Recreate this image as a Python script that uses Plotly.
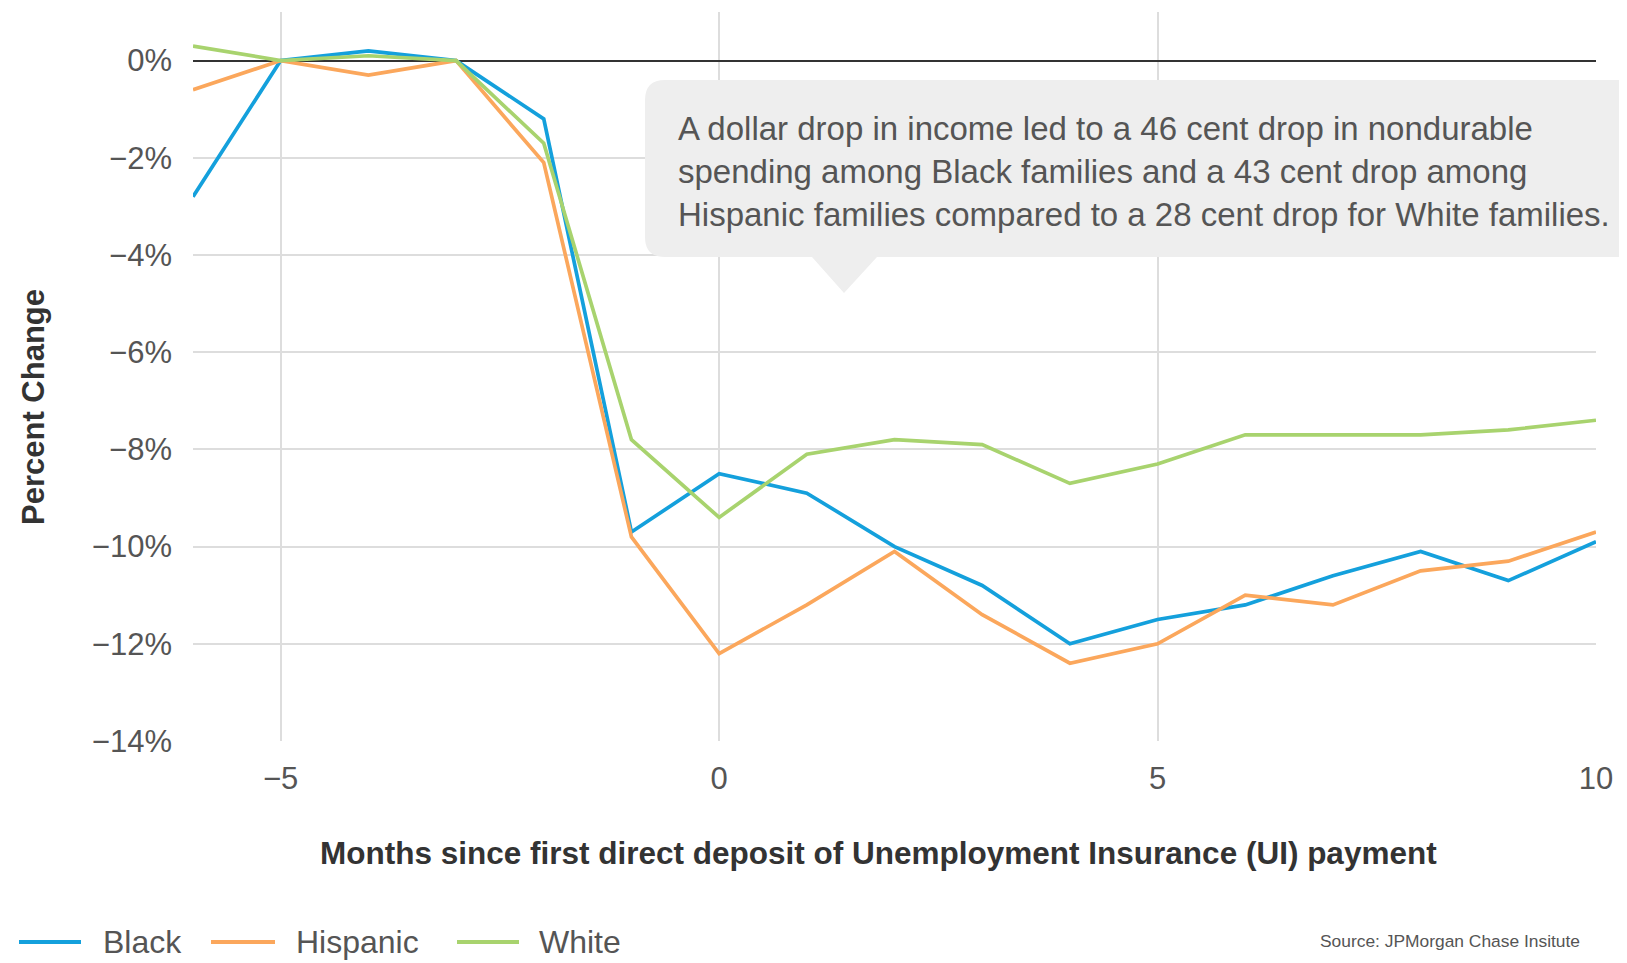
import plotly.graph_objects as go

months = [-6, -5, -4, -3, -2, -1, 0, 1, 2, 3, 4, 5, 6, 7, 8, 9, 10]
black = [-2.8, 0.0, 0.2, 0.0, -1.2, -9.7, -8.5, -8.9, -10.0, -10.8, -12.0, -11.5, -11.2, -10.6, -10.1, -10.7, -9.9]
hispanic = [-0.6, 0.0, -0.3, 0.0, -2.1, -9.8, -12.2, -11.2, -10.1, -11.4, -12.4, -12.0, -11.0, -11.2, -10.5, -10.3, -9.7]
white = [0.3, 0.0, 0.1, 0.0, -1.7, -7.8, -9.4, -8.1, -7.8, -7.9, -8.7, -8.3, -7.7, -7.7, -7.7, -7.6, -7.4]

series_names = ["Black", "Hispanic", "White"]
series_colors = ["#14A0DC", "#FBA75C", "#A8D36E"]
x_ticks = [-5, 0, 5, 10]
y_ticks = [0, -2, -4, -6, -8, -10, -12, -14]
y_tick_labels = ["0%", "\u22122%", "\u22124%", "\u22126%", "\u22128%", "\u221210%", "\u221212%", "\u221214%"]

callout_text = ("A dollar drop in income led to a 46 cent drop in nondurable<br>"
                "spending among Black families and a 43 cent drop among<br>"
                "Hispanic families compared to a 28 cent drop for White families.")
x_title = "Months since first direct deposit of Unemployment Insurance (UI) payment"
y_title = "Percent Change"
source_text = "Source: JPMorgan Chase Insitute"

W, H = 1627, 963
L, R, T, B = 185, 39, 4, 230
PW, PH = W - L - R, H - T - B

def px(x):
    return (x - L) / PW

def py(y):
    return (H - B - y) / PH

FONT = "Liberation Sans, Arial, sans-serif"

fig = go.Figure()
for name, vals, col in zip(series_names, [black, hispanic, white], series_colors):
    fig.add_trace(go.Scatter(x=months, y=vals, name=name, mode="lines",
                             line=dict(color=col, width=3.7), showlegend=False))

# callout box with pointer
x0, x1, y0, y1, r = 637, 1700, 72, 249, 20
path = (f"M {px(x0+r)},{py(y0)} L {px(x1)},{py(y0)} L {px(x1)},{py(y1)} "
        f"L {px(869)},{py(y1)} L {px(836)},{py(285)} L {px(804)},{py(y1)} "
        f"L {px(x0+r)},{py(y1)} Q {px(x0)},{py(y1)} {px(x0)},{py(y1-r)} "
        f"L {px(x0)},{py(y0+r)} Q {px(x0)},{py(y0)} {px(x0+r)},{py(y0)} Z")
fig.add_shape(type="path", path=path, xref="paper", yref="paper",
              fillcolor="#EEEEEE", line=dict(width=0), layer="above")

fig.add_annotation(text=callout_text, xref="paper", yref="paper",
                   x=px(668), y=py(163), xanchor="left", yanchor="middle",
                   align="left", showarrow=False,
                   font=dict(family=FONT, size=33, color="#555555"))

fig.add_annotation(text=f"<b>{x_title}</b>", xref="paper", yref="paper",
                   x=px(870), y=py(845), xanchor="center", yanchor="middle",
                   showarrow=False, font=dict(family=FONT, size=31.5, color="#333333"))
fig.add_annotation(text=f"<b>{y_title}</b>", xref="paper", yref="paper",
                   x=px(25), y=py(399), xanchor="center", yanchor="middle",
                   textangle=-90, showarrow=False,
                   font=dict(family=FONT, size=31, color="#333333"))
fig.add_annotation(text=source_text, xref="paper", yref="paper",
                   x=px(1574), y=py(933), xanchor="right", yanchor="middle",
                   showarrow=False, font=dict(family=FONT, size=17.4, color="#555555"))

# legend (swatch line + label per series)
legend_line_x = [(11, 73), (203, 267), (449, 511)]
legend_text_x = [93, 286, 529]
legend_y = 934
for name, col, (lx0, lx1), tx in zip(series_names, series_colors, legend_line_x, legend_text_x):
    fig.add_shape(type="line", xref="paper", yref="paper",
                  x0=px(lx0), x1=px(lx1), y0=py(legend_y), y1=py(legend_y),
                  line=dict(color=col, width=4))
    fig.add_annotation(text=name, xref="paper", yref="paper",
                       x=px(tx), y=py(legend_y), xanchor="left", yanchor="middle",
                       showarrow=False, font=dict(family=FONT, size=32, color="#555555"))

fig.update_layout(
    width=W, height=H,
    margin=dict(l=L, r=R, t=T, b=B, autoexpand=False),
    paper_bgcolor="white", plot_bgcolor="white",
    font=dict(family=FONT, size=31, color="#555555"),
    showlegend=False,
    xaxis=dict(range=[-6, 10], tickvals=x_ticks, showgrid=True,
               gridcolor="#DDDDDD", gridwidth=1.5, zeroline=False,
               showline=False, ticks="", ticklabelstandoff=16,
               tickfont=dict(size=31, color="#555555")),
    yaxis=dict(range=[-14, 1], tickmode="array", tickvals=y_ticks, ticktext=y_tick_labels,
               showgrid=True, gridcolor="#DDDDDD", gridwidth=2,
               zeroline=True, zerolinecolor="#333333", zerolinewidth=2,
               showline=False, ticks="", ticklabelstandoff=20,
               tickfont=dict(size=31, color="#555555")),
)

fig.write_html("out.html")
